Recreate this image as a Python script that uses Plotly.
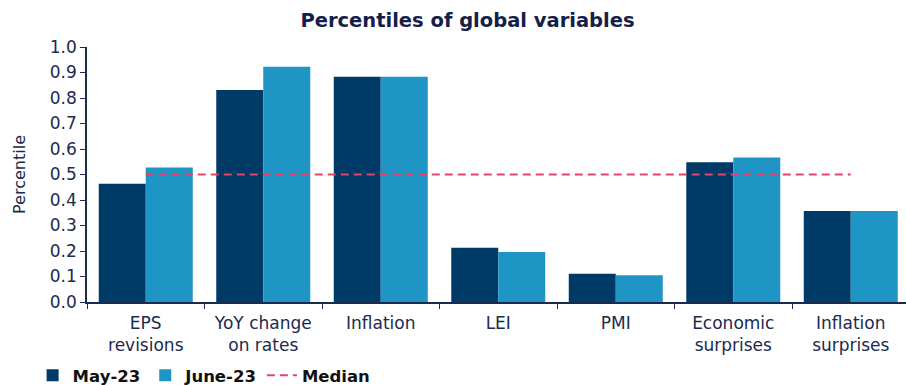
import plotly.graph_objects as go

categories = ["EPS<br>revisions", "YoY change<br>on rates", "Inflation", "LEI", "PMI",
              "Economic<br>surprises", "Inflation<br>surprises"]
may_23 = [0.464, 0.831, 0.883, 0.213, 0.111, 0.548, 0.357]
june_23 = [0.527, 0.923, 0.883, 0.196, 0.105, 0.567, 0.357]
median = [0.5] * len(categories)
y_ticks = [0.0, 0.1, 0.2, 0.3, 0.4, 0.5, 0.6, 0.7, 0.8, 0.9, 1.0]

navy = "#1b2a4e"
fig = go.Figure()
fig.add_trace(go.Bar(x=categories, y=may_23, name="May-23", marker_color="#003a66",
                     marker_line=dict(width=0)))
fig.add_trace(go.Bar(x=categories, y=june_23, name="June-23", marker_color="#1e95c4",
                     marker_line=dict(width=0)))
fig.add_trace(go.Scatter(x=categories, y=median, name="Median", mode="lines",
                         line=dict(color="#e5436a", width=2, dash="8px,5px")))

fig.update_layout(
    width=906, height=385,
    margin=dict(l=87, r=0, t=47, b=83),
    paper_bgcolor="white", plot_bgcolor="white",
    barmode="group", bargap=0.2, bargroupgap=0,
    font=dict(family="DejaVu Sans", size=16, color=navy),
    title=dict(text="Percentiles of global variables", x=0.516, xanchor="center",
               y=0.948, yanchor="middle",
               font=dict(family="DejaVu Sans", size=19.5, weight="bold", color="#14204a")),
    showlegend=True,
    legend=dict(orientation="h", xref="container", yref="container",
                x=0.036, y=0.07, xanchor="left", yanchor="top",
                font=dict(family="DejaVu Sans", size=16.5, color="#111111", weight="bold"),
                itemwidth=30, tracegroupgap=0, traceorder="normal"),
)
fig.update_xaxes(range=[-0.5, 6.47], showline=True, linecolor=navy, linewidth=1.5,
                 ticks="outside", tickson="boundaries", ticklen=5, tickcolor=navy,
                 ticklabelstandoff=5,
                 showgrid=False, tickfont=dict(family="DejaVu Sans", size=17, color=navy))
fig.update_yaxes(range=[0, 1.0], tickvals=y_ticks, tickformat=".1f", showline=True,
                 linecolor=navy, linewidth=1.5, ticks="outside", ticklen=5, tickcolor=navy,
                 showgrid=False, zeroline=False,
                 tickfont=dict(family="DejaVu Sans", size=17, color=navy),
                 title=dict(text="Percentile", standoff=20,
                            font=dict(family="DejaVu Sans", size=16, color=navy)))

fig.write_html("out.html")
